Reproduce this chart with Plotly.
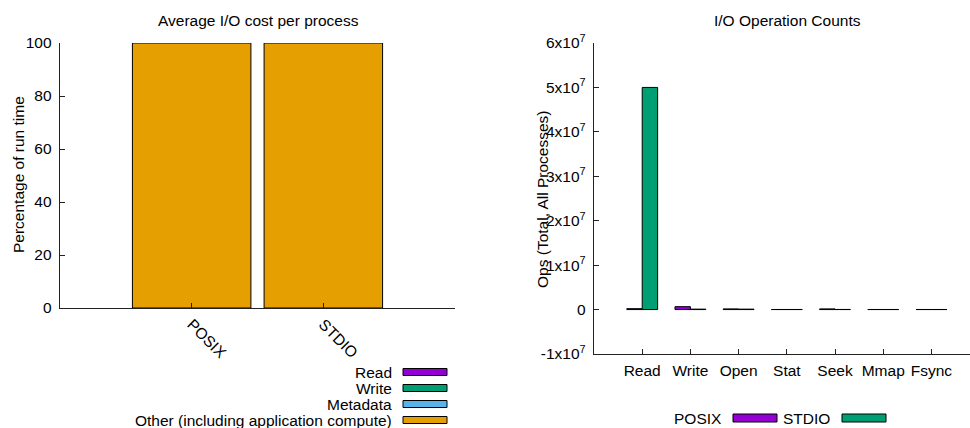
import plotly.graph_objects as go
import numpy as np

# ---- data: left chart (Average I/O cost per process, % of run time) ----
modules = ["POSIX", "STDIO"]
cost_read = [0.0, 0.0]
cost_write = [0.0, 0.0]
cost_meta = [0.0, 0.0]
cost_other = [100.0, 100.0]
cost_names = ["Read", "Write", "Metadata", "Other (including application compute)"]
cost_colors = ["#9400D3", "#009E73", "#56B4E9", "#E69F00"]

# ---- data: right chart (I/O Operation Counts) ----
ops = ["Read", "Write", "Open", "Stat", "Seek", "Mmap", "Fsync"]
posix_ops = [2.0e5, 6.5e5, 1.5e5, 2.0e4, 1.5e5, 2.0e4, 2.0e4]
stdio_ops = [5.0e7, 1.0e5, 1.0e5, 2.0e4, 3.0e4, 2.0e4, 2.0e4]
ops_names = ["POSIX", "STDIO"]
ops_colors = ["#9400D3", "#009E73"]
ytick_vals = [-1e7, 0, 1e7, 2e7, 3e7, 4e7, 5e7, 6e7]
ytick_text = ["-1x10<sup>7</sup>", "0", "1x10<sup>7</sup>", "2x10<sup>7</sup>",
              "3x10<sup>7</sup>", "4x10<sup>7</sup>", "5x10<sup>7</sup>", "6x10<sup>7</sup>"]

W, H = 970, 428
FONT = "Liberation Sans, Arial, sans-serif"
FS = 15.5


def px(x):
    return x / W


def py(y):
    return 1 - y / H


fig = go.Figure()

# left stacked bars (base computed from cumulative sums)
series = [cost_read, cost_write, cost_meta, cost_other]
base = np.zeros(len(modules))
for vals, name, col in zip(series, cost_names, cost_colors):
    fig.add_trace(go.Bar(
        x=modules, y=vals, base=base.copy(), name=name,
        marker=dict(color=col, line=dict(color="black", width=1)),
        width=0.9, offset=-0.45, xaxis="x", yaxis="y", showlegend=False))
    base = base + np.array(vals)

# right grouped bars
for i, (vals, name, col) in enumerate(zip([posix_ops, stdio_ops], ops_names, ops_colors)):
    fig.add_trace(go.Bar(
        x=ops, y=vals, name=name,
        marker=dict(color=col, line=dict(color="black", width=1)),
        width=0.32, offset=-0.32 + 0.32 * i, xaxis="x2", yaxis="y2", showlegend=False))

axis_common = dict(showline=True, linecolor="#222", linewidth=1.3, ticks="inside",
                   tickcolor="#222", ticklen=5, showgrid=False, zeroline=False,
                   automargin=False,
                   tickfont=dict(family=FONT, size=FS, color="black"))

fig.update_layout(
    template="none",
    width=W, height=H, margin=dict(l=0, r=0, t=0, b=0, pad=0), autosize=False,
    paper_bgcolor="white", plot_bgcolor="white", barmode="overlay",
    font=dict(family=FONT, size=FS, color="black"),
    xaxis=dict(domain=[px(60), px(455)], range=[-1, 2], type="category",
               tickangle=45, anchor="y", **axis_common),
    yaxis=dict(domain=[py(308), py(43)], range=[0, 100], tickvals=[0, 20, 40, 60, 80, 100],
               anchor="x", ticklabelstandoff=4, **axis_common),
    xaxis2=dict(domain=[px(594), 1.0], range=[-1, 6.8], type="category",
                anchor="y2", ticklabelstandoff=2, **axis_common),
    yaxis2=dict(domain=[py(354), py(43)], range=[-1e7, 6e7], tickvals=ytick_vals,
                ticktext=ytick_text, anchor="x2", ticklabelstandoff=4, **axis_common),
)

ann = [
    dict(text="Average I/O cost per process", x=px(258), y=py(20)),
    dict(text="I/O Operation Counts", x=px(787), y=py(20)),
    dict(text="Percentage of run time", x=px(18), y=py(175), textangle=-90),
    dict(text="Ops (Total, All Processes)", x=px(542), y=py(200), textangle=-90),
]
for a in ann:
    fig.add_annotation(xref="paper", yref="paper", showarrow=False,
                       xanchor="center", yanchor="middle",
                       font=dict(family=FONT, size=FS, color="black"), **a)

# custom legend (left): text right-aligned, box to its right
rows = [372, 388, 404, 420]
for name, col, yc in zip(cost_names, cost_colors, rows):
    fig.add_annotation(xref="paper", yref="paper", showarrow=False, text=name,
                       x=px(394), y=py(yc), xanchor="right", yanchor="middle",
                       font=dict(family=FONT, size=FS, color="black"))
    fig.add_shape(type="rect", xref="paper", yref="paper",
                  x0=px(403), x1=px(447), y0=py(yc - 3.5), y1=py(yc + 3.5),
                  fillcolor=col, line=dict(color="black", width=1))

# custom legend (right): text then box, horizontally
leg2 = [(724, 733, 777), (832, 842, 886)]
for name, col, (tx, b0, b1) in zip(ops_names, ops_colors, leg2):
    fig.add_annotation(xref="paper", yref="paper", showarrow=False, text=name,
                       x=px(tx), y=py(418), xanchor="right", yanchor="middle",
                       font=dict(family=FONT, size=FS, color="black"))
    fig.add_shape(type="rect", xref="paper", yref="paper",
                  x0=px(b0), x1=px(b1), y0=py(414), y1=py(422),
                  fillcolor=col, line=dict(color="black", width=1))

fig.write_html(
    "out.html",
    config={"displayModeBar": False, "staticPlot": True},
    post_script="document.body.style.margin='0';document.body.style.padding='0';"
                "document.body.style.overflow='hidden';",
)
